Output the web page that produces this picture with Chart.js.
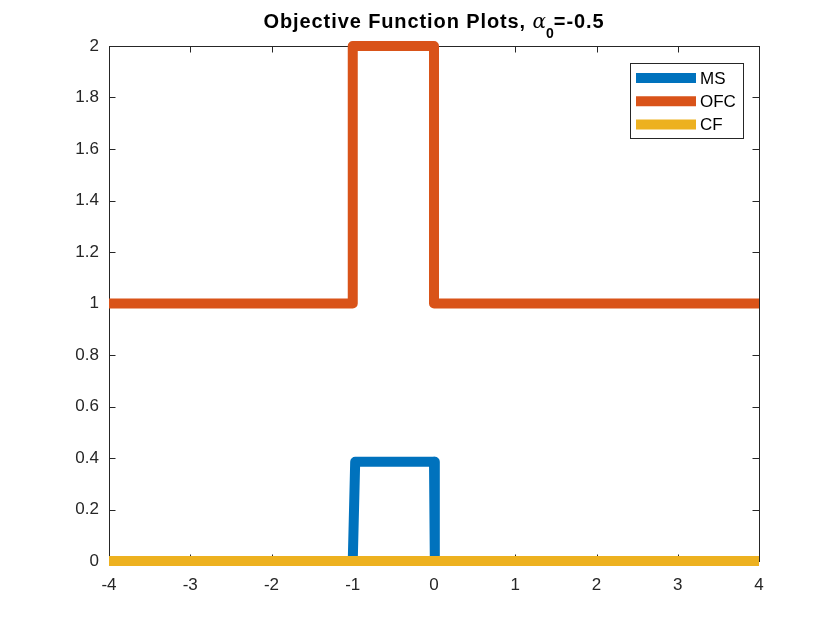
<!DOCTYPE html>
<html>
<head>
<meta charset="utf-8">
<script src="https://cdn.jsdelivr.net/npm/chart.js@4"></script>
<style>
  body { margin: 0; background: #fff; }
  #wrap { width: 840px; height: 630px; }
</style>
</head>
<body>
<div id="wrap"><canvas id="objective-chart" width="840" height="630"></canvas></div>
<script>
// step-function break points
const msX = [-4, -1, -0.97, 0, 0.01, 4];
const msY = [0, 0, 0.385, 0.385, 0, 0];
const ofcX = [-4, -1, -1, 0, 0, 4];
const ofcY = [1, 1, 2, 2, 1, 1];
const cfX = [-4, 4];
const cfY = [0, 0];

const seriesLabels = ['MS', 'OFC', 'CF'];
const seriesColors = ['#0072BD', '#D95319', '#EDB120'];

const xTickValues = [-4, -3, -2, -1, 0, 1, 2, 3, 4];
const yTickValues = [0, 0.2, 0.4, 0.6, 0.8, 1, 1.2, 1.4, 1.6, 1.8, 2];
const yTickLabels = ['0', '0.2', '0.4', '0.6', '0.8', '1', '1.2', '1.4', '1.6', '1.8', '2'];

const FONT = 'Arial, "Liberation Sans", Helvetica, sans-serif';
const AXIS_COLOR = '#262626';

const toPoints = (xs, ys) => xs.map((x, i) => ({ x: x, y: ys[i] }));

// box + inward ticks, MATLAB style, drawn under the lines
const framePlugin = {
    id: 'frame',
    beforeDatasetsDraw(chart) {
        const { ctx, chartArea: a, scales } = chart;
        const tl = 6.5;
        ctx.save();
        ctx.strokeStyle = AXIS_COLOR;
        ctx.lineWidth = 1;
        ctx.strokeRect(a.left + 0.5, a.top + 0.5, a.right - a.left, a.bottom - a.top);
        ctx.beginPath();
        xTickValues.forEach(v => {
            const px = Math.round(scales.x.getPixelForValue(v)) + 0.5;
            ctx.moveTo(px, a.bottom); ctx.lineTo(px, a.bottom - tl);
            ctx.moveTo(px, a.top); ctx.lineTo(px, a.top + tl);
        });
        yTickValues.forEach(v => {
            const py = Math.round(scales.y.getPixelForValue(v)) + 0.5;
            ctx.moveTo(a.left, py); ctx.lineTo(a.left + tl, py);
            ctx.moveTo(a.right, py); ctx.lineTo(a.right - tl, py);
        });
        ctx.stroke();
        ctx.restore();
    }
};

const legendBoxPlugin = {
    id: 'legendBox',
    afterDraw(chart) {
        const ctx = chart.ctx;
        const x0 = 630.5, y0 = 63.5, w = 113, h = 75;
        ctx.save();
        ctx.fillStyle = '#fff';
        ctx.fillRect(x0, y0, w, h);
        ctx.strokeStyle = AXIS_COLOR;
        ctx.lineWidth = 1;
        ctx.strokeRect(x0, y0, w, h);
        ctx.font = '17px ' + FONT;
        ctx.textBaseline = 'middle';
        chart.data.datasets.forEach((ds, i) => {
            const y = 78 + i * 23.3;
            ctx.strokeStyle = ds.borderColor;
            ctx.lineWidth = 10;
            ctx.beginPath();
            ctx.moveTo(636, y);
            ctx.lineTo(696, y);
            ctx.stroke();
            ctx.fillStyle = '#000';
            ctx.fillText(ds.label, 700, y + 1);
        });
        ctx.restore();
    }
};

const titlePlugin = {
    id: 'texTitle',
    afterDraw(chart) {
        const ctx = chart.ctx;
        const a = chart.chartArea;
        const parts = [
            { t: 'Objective Function Plots, ', f: 'bold 20px ' + FONT, dy: 0, ls: 0.9 },
            { t: '\u03B1', f: 'italic 20px "DejaVu Serif", "Liberation Serif", serif', dy: 0, ls: 0 },
            { t: '0', f: 'bold 14px ' + FONT, dy: 10, ls: 0 },
            { t: '=-0.5', f: 'bold 20px ' + FONT, dy: 0, ls: 0.9 }
        ];
        ctx.save();
        ctx.fillStyle = '#000';
        ctx.textBaseline = 'alphabetic';
        let total = 0;
        parts.forEach(p => {
            ctx.font = p.f;
            ctx.letterSpacing = p.ls + 'px';
            p.w = ctx.measureText(p.t).width;
            total += p.w;
        });
        let x = (a.left + a.right) / 2 - total / 2;
        const base = 28;
        parts.forEach(p => {
            ctx.font = p.f;
            ctx.letterSpacing = p.ls + 'px';
            ctx.fillText(p.t, x, base + p.dy);
            x += p.w;
        });
        ctx.restore();
    }
};

const lineStyle = {
    fill: false,
    tension: 0,
    pointRadius: 0,
    borderWidth: 10,
    borderJoinStyle: 'round',
    borderCapStyle: 'butt',
    clip: false
};

new Chart(document.getElementById('objective-chart').getContext('2d'), {
    type: 'line',
    data: {
        datasets: [
            Object.assign({ label: seriesLabels[0], data: toPoints(msX, msY), borderColor: seriesColors[0], order: 3 }, lineStyle),
            Object.assign({ label: seriesLabels[1], data: toPoints(ofcX, ofcY), borderColor: seriesColors[1], order: 2 }, lineStyle),
            Object.assign({ label: seriesLabels[2], data: toPoints(cfX, cfY), borderColor: seriesColors[2], order: 1 }, lineStyle)
        ]
    },
    options: {
        responsive: false,
        animation: false,
        events: [],
        layout: { padding: { top: 46, right: 81, left: 0, bottom: 0 } },
        scales: {
            x: {
                type: 'linear',
                min: -4,
                max: 4,
                afterFit: (scale) => { scale.height = 69; },
                afterBuildTicks: (scale) => { scale.ticks = xTickValues.map(v => ({ value: v })); },
                grid: { display: false, drawTicks: false },
                border: { display: false },
                ticks: {
                    padding: 14,
                    color: AXIS_COLOR,
                    font: { family: FONT, size: 17 },
                    callback: (value) => String(value)
                }
            },
            y: {
                type: 'linear',
                min: 0,
                max: 2,
                afterFit: (scale) => { scale.width = 109; },
                afterBuildTicks: (scale) => { scale.ticks = yTickValues.map(v => ({ value: v })); },
                grid: { display: false, drawTicks: false },
                border: { display: false },
                ticks: {
                    padding: 10,
                    color: AXIS_COLOR,
                    font: { family: FONT, size: 17 },
                    callback: (value) => yTickLabels[yTickValues.indexOf(value)]
                }
            }
        },
        plugins: {
            legend: { display: false },
            title: { display: false },
            tooltip: { enabled: false }
        }
    },
    plugins: [framePlugin, legendBoxPlugin, titlePlugin]
});
</script>
</body>
</html>
